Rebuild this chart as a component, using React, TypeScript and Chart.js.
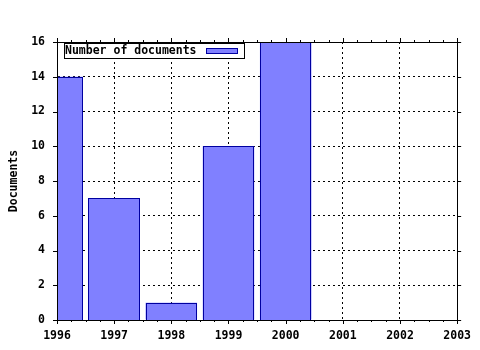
import React, { useEffect, useRef } from "react";
import { Chart, registerables } from "chart.js";

Chart.register(...registerables);

const years = [1996, 1997, 1998, 1999, 2000];
const documents = [14, 7, 1, 10, 16];
const seriesLabel = "Number of documents";
const yTitle = "Documents";
const xMin = 1996;
const xMax = 2003;
const yMin = 0;
const yMax = 16;

const FONT = "'DejaVu Sans Mono', monospace";
const BAR_FILL = "#8080ff";
const BAR_EDGE = "#0000a0";

const framePlugin = {
  id: "gnuFrame",
  afterDatasetsDraw(chart: any) {
    const { ctx, chartArea: a, scales } = chart;
    const xs = scales.x;
    const ys = scales.y;
    ctx.save();

    // crisp bar outlines from the bar elements laid out by Chart.js
    ctx.beginPath();
    ctx.rect(a.left, a.top - 1, a.right - a.left, a.bottom - a.top + 2);
    ctx.clip();
    const meta = chart.getDatasetMeta(0);
    ctx.lineWidth = 1;
    ctx.setLineDash([]);
    meta.data.forEach((el: any) => {
      const l = Math.round(el.x - el.width / 2);
      const r = Math.round(el.x + el.width / 2);
      const t = Math.round(el.y);
      const b = Math.round(el.base);
      ctx.fillStyle = BAR_FILL;
      ctx.fillRect(l, t, r - l, b - t);
      ctx.strokeStyle = BAR_EDGE;
      ctx.strokeRect(l + 0.5, t + 0.5, r - l - 1, b - t);
    });
    ctx.restore();

    ctx.save();
    ctx.strokeStyle = "#000";
    ctx.lineWidth = 1;
    ctx.setLineDash([]);
    ctx.strokeRect(Math.round(a.left) + 0.5, Math.round(a.top) + 0.5, Math.round(a.right - a.left), Math.round(a.bottom - a.top));
    ctx.beginPath();
    for (let v = xMin; v <= xMax + 1e-9; v += 0.25) {
      const px = Math.round(xs.getPixelForValue(v)) + 0.5;
      const major = Math.abs(v - Math.round(v)) < 1e-6;
      const len = major ? 4 : 2;
      ctx.moveTo(px, a.bottom);
      ctx.lineTo(px, a.bottom + len);
      ctx.moveTo(px, a.top);
      ctx.lineTo(px, a.top - len);
    }
    for (let v = yMin; v <= yMax; v += 2) {
      const py = Math.round(ys.getPixelForValue(v)) + 0.5;
      ctx.moveTo(a.left, py);
      ctx.lineTo(a.left - 4, py);
      ctx.moveTo(a.right, py);
      ctx.lineTo(a.right + 4, py);
    }
    ctx.stroke();

    const ds = chart.data.datasets[0];
    ctx.font = `bold 11.5px ${FONT}`;
    const tw = ctx.measureText(ds.label).width;
    const bx = Math.round(a.left) + 7;
    const by = Math.round(a.top) + 1;
    const textX = bx + 1;
    const swX = Math.round(textX + tw + 9);
    const swW = 31;
    const bw = Math.round(swX + swW + 7 - bx);
    const bh = 15;
    ctx.fillStyle = "#fff";
    ctx.fillRect(bx, by, bw, bh);
    ctx.strokeRect(bx + 0.5, by + 0.5, bw, bh);
    ctx.fillStyle = "#000";
    ctx.textBaseline = "middle";
    ctx.textAlign = "left";
    ctx.fillText(ds.label, textX, by + bh / 2 + 1);
    ctx.fillStyle = BAR_FILL;
    ctx.fillRect(swX, by + 5, swW, 5);
    ctx.strokeStyle = BAR_EDGE;
    ctx.strokeRect(swX + 0.5, by + 5.5, swW, 5);
    ctx.restore();
  },
};

export default function App() {
  const ref = useRef<HTMLCanvasElement | null>(null);
  useEffect(() => {
    if (!ref.current) return;
    const chart = new Chart(ref.current, {
      type: "bar",
      data: {
        datasets: [
          {
            label: seriesLabel,
            data: years.map((y, i) => ({ x: y, y: documents[i] })),
            backgroundColor: BAR_FILL,
            borderColor: BAR_EDGE,
            borderWidth: 0,
            categoryPercentage: 1,
            barPercentage: 0.9,
          } as any,
        ],
      },
      options: {
        responsive: false,
        animation: false,
        events: [],
        layout: { padding: { top: 42, right: 21, left: 0, bottom: 0 } },
        plugins: { legend: { display: false }, tooltip: { enabled: false } },
        scales: {
          x: {
            type: "linear",
            min: xMin,
            max: xMax,
            offset: false,
            afterFit: (s: any) => {
              s.height = 30;
            },
            grid: { color: "#000", lineWidth: 1, drawTicks: false, offset: false } as any,
            border: { display: true, color: "#000", dash: [2, 3] } as any,
            ticks: {
              stepSize: 1,
              padding: 9,
              color: "#000",
              font: { family: FONT, size: 11.5, weight: "bold" },
              callback: (v: any) => String(v),
              maxRotation: 0,
            },
          },
          y: {
            min: yMin,
            max: yMax,
            afterFit: (s: any) => {
              s.width = 57;
            },
            grid: { color: "#000", lineWidth: 1, drawTicks: false } as any,
            border: { display: true, color: "#000", dash: [2, 3] } as any,
            title: {
              display: true,
              text: yTitle,
              color: "#000",
              font: { family: FONT, size: 11.5, weight: "bold" },
              padding: { top: 7, bottom: 0 },
            },
            ticks: {
              stepSize: 2,
              padding: 12,
              color: "#000",
              font: { family: FONT, size: 11.5, weight: "bold" },
            },
          },
        },
      } as any,
      plugins: [framePlugin],
    });
    return () => chart.destroy();
  }, []);
  return (
    <div style={{ position: "absolute", left: 0, top: 0, width: 480, height: 350, background: "#fff" }}>
      <canvas ref={ref} width={480} height={350} />
    </div>
  );
}
